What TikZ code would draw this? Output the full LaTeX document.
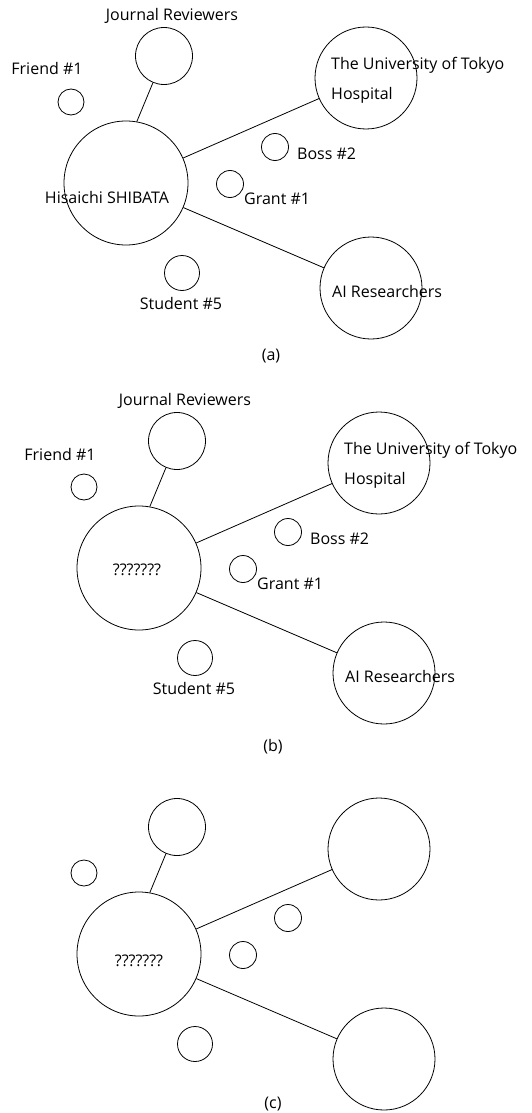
\documentclass[tikz,border=0pt]{standalone}
\usepackage{fontspec}
\setmainfont{Open Sans}
\usetikzlibrary{positioning}

\tikzset{
  contact/.style={draw, circle, line width=0.8pt, inner sep=0pt},
  tie/.style={line width=0.8pt},
  tag/.style={font=\fontsize{16}{19}\selectfont, inner sep=0pt}
}

% circles and ties of one panel
\newcommand{\drawnet}{%
  \node[contact, minimum size=124pt] (me) at (126,183) {};
  \node[contact, minimum size=57pt] (journal) at (164,56) {};
  \node[contact, minimum size=26pt] (friend) at (71,102) {};
  \node[contact, minimum size=102pt] (tokyo) at (366,78) {};
  \node[contact, minimum size=27pt] (boss) at (275,147) {};
  \node[contact, minimum size=27pt] (grant) at (230,184) {};
  \node[contact, minimum size=102pt] (ai) at (371,288) {};
  \node[contact, minimum size=35pt] (student) at (182,273) {};
  \draw[tie] (journal) -- (me.80);
  \draw[tie] (me) -- (tokyo);
  \draw[tie] (me) -- (ai);
}

% labels round the circles
\newcommand{\drawtags}{%
  \node[tag] (tjournal) at (172,16) {Journal Reviewers};
  \node[tag] (tfriend) at (47,69) {Friend \#1};
  \node[tag, anchor=west] (ttokyo) at (331,65) {The University of Tokyo};
  \node[tag, anchor=west] (thosp) at (331,95) {Hospital};
  \node[tag, anchor=west] (tboss) at (297,154) {Boss \#2};
  \node[tag, anchor=west] (tgrant) at (244,199) {Grant \#1};
  \node[tag, anchor=west] (tai) at (332,291) {AI Researchers};
  \node[tag] (tstudent) at (181,303) {Student \#5};
}

\begin{document}
\begin{tikzpicture}[x=1pt, y=-1pt]
\useasboundingbox (0,0) rectangle (532,1113);
% Panel (a)
\begin{scope}
  \drawnet
  \drawtags
  \node[tag] (tme) at (107,197) {Hisaichi SHIBATA};
  \node[tag] (capa) at (271,356) {(a)};
\end{scope}
% Panel (b)
\begin{scope}[shift={(13,385)}]
  \drawnet
  \drawtags
  \node[tag] (tme) at (124,185) {???????};
\end{scope}
\node[tag] (capb) at (273,747) {(b)};
% Panel (c)
\begin{scope}[shift={(13,771)}]
  \drawnet
  \node[tag] (tme) at (126,190) {???????};
\end{scope}
\node[tag] (capc) at (273,1104) {(c)};
\end{tikzpicture}
\end{document}
